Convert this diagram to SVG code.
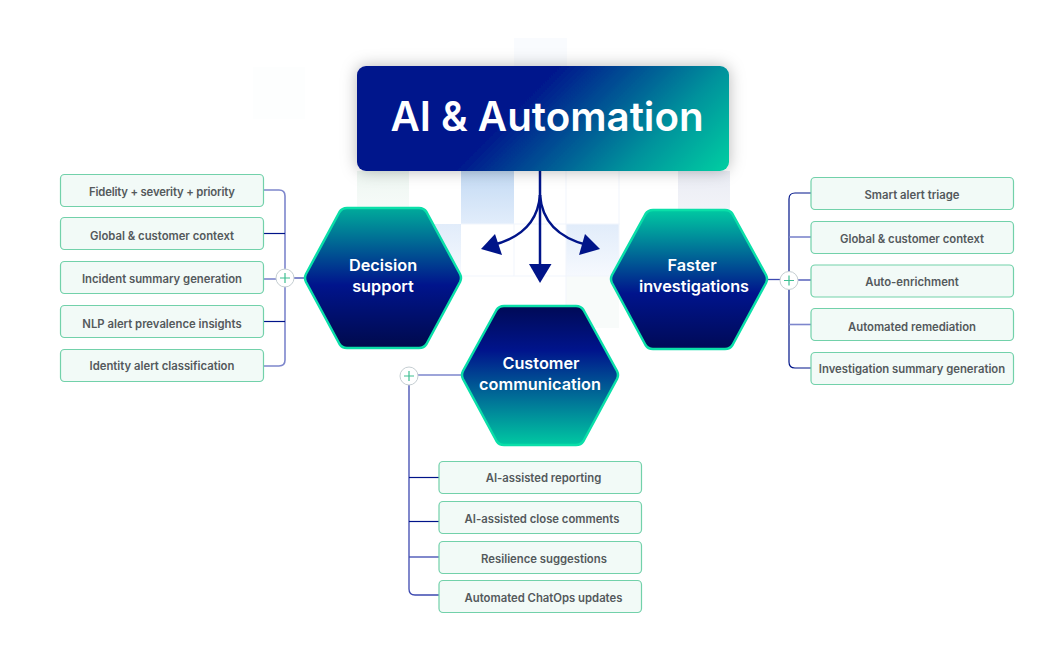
<svg xmlns="http://www.w3.org/2000/svg" width="1058" height="653" viewBox="0 0 1058 653">
<style>
text{font-family:"Inter","Liberation Sans",sans-serif;font-weight:600;text-anchor:middle;font-variant-ligatures:none}
.lab{font-size:11.3px;fill:#54595c}
.hx{font-size:16.300px;fill:#fff}
.box{fill:#f2faf7;stroke:#72d1aa;stroke-width:1.2}
.hex{stroke:#0adfa9;stroke-width:2.5;stroke-linejoin:round}
.d{fill:none;stroke:#001489;stroke-width:1.2}
.f{fill:none;stroke:#7d86cc;stroke-width:1.6}
.m{fill:none;stroke:#3d49b0;stroke-width:1.3}
.plus{fill:#fff;stroke:#c5ced2;stroke-width:1}
.pl{stroke:#3ebf92;stroke-width:1.2}
.arr{fill:none;stroke:#001489;stroke-width:2.5}
.head{fill:#001489}
.grid{stroke:#f1f5fc;stroke-width:1}
</style>
<defs>
<linearGradient id="gm" gradientUnits="userSpaceOnUse" x1="470" y1="150" x2="610" y2="290"><stop offset="0" stop-color="#00148c"/><stop offset=".62" stop-color="#00929c"/><stop offset="1" stop-color="#00cfa2"/></linearGradient>
<linearGradient id="gh" x1="0" y1="0" x2="0" y2="1"><stop offset="0" stop-color="#00ab9b"/><stop offset=".55" stop-color="#00148c"/><stop offset="1" stop-color="#000a4c"/></linearGradient>
<linearGradient id="gr" x1="0" y1="0" x2="0" y2="1"><stop offset="0" stop-color="#00c9a2"/><stop offset=".6" stop-color="#00148c"/><stop offset="1" stop-color="#000a56"/></linearGradient>
<linearGradient id="gb" x1="0" y1="0" x2="0" y2="1"><stop offset="0" stop-color="#000a56"/><stop offset=".32" stop-color="#00148c"/><stop offset="1" stop-color="#00c9a2"/></linearGradient>
<linearGradient id="b1" x1="0" y1="0" x2="0" y2="1"><stop offset="0" stop-color="#c3daf4"/><stop offset="1" stop-color="#e2edfb"/></linearGradient>
<linearGradient id="b2" x1="0" y1="0" x2="0" y2="1"><stop offset="0" stop-color="#e1ecfa"/><stop offset="1" stop-color="#f6f9fe"/></linearGradient>
<linearGradient id="b3" x1="0" y1="0" x2="0" y2="1"><stop offset="0" stop-color="#edf6f1"/><stop offset="1" stop-color="#fbfdfc"/></linearGradient>
<linearGradient id="b4" x1="0" y1="0" x2="0" y2="1"><stop offset="0" stop-color="#eaecf4"/><stop offset="1" stop-color="#f5f6fa"/></linearGradient>
<filter id="sh" x="-10%" y="-25%" width="120%" height="150%"><feDropShadow dx="0" dy="0" stdDeviation="8" flood-color="#000" flood-opacity=".28"/></filter>
</defs>
<rect width="1058" height="653" fill="#fff"/>
<g id="background">
<rect x="253" y="67" width="52" height="52" fill="#fdfefe"/>
<rect x="514" y="38" width="53" height="28" fill="#f9fbfe"/>
<rect x="357" y="171" width="52" height="53" fill="url(#b3)"/>
<rect x="461" y="171" width="53" height="53" fill="url(#b1)"/>
<rect x="678" y="171" width="52" height="53" fill="url(#b4)"/>
<rect x="409" y="224" width="52" height="52" fill="url(#b2)"/>
<rect x="566" y="224" width="53" height="52" fill="url(#b2)"/>
<rect x="566" y="276" width="53" height="52" fill="#f8fbfa"/>
<path class="grid" d="M461 224H620M461 276H620M566 171V330M619 171V276M514 224V276"/>
</g>
<g id="connectors">
<path class="f" d="M264 190H279Q285 190 285 196V360Q285 366 279 366H264"/>
<path class="d" d="M264 233.500H285"/><path class="f" d="M264 279H276"/><path class="d" d="M264 321.500H285"/><path class="m" d="M294 278H304"/>
<path class="d" d="M811 193H795Q789 193 789 199V362Q789 368 795 368H811"/>
<path class="f" d="M789 237H811"/><path class="m" d="M798 280H811"/><path class="f" d="M789 324.500H811"/><path class="m" d="M768 279.500H780"/>
<path class="f" d="M418 375H461"/>
<path class="m" d="M409 385V589Q409 595 415 595H439"/>
<path class="d" d="M409 477.500H439"/><path class="d" d="M409 521.500H439"/><path class="m" d="M409 557H439"/>
<path class="arr" d="M540 171V266"/><path class="arr" d="M540 195C538 222 520 238 493 245"/><path class="arr" d="M540 195C542 222 560 238 587 245"/>
<path class="head" d="M529 264H551.500L540 283Z"/><path class="head" d="M481 249L495 234L502 255Z"/><path class="head" d="M600 249L585 234L579 255Z"/>
<circle class="plus" cx="285" cy="278" r="9"/><path class="pl" d="M280 278H290M285 273V283"/>
<circle class="plus" cx="789" cy="280.500" r="9"/><path class="pl" d="M784 280.500H794M789 275.500V285.500"/>
<circle class="plus" cx="409" cy="376" r="9"/><path class="pl" d="M404 376H414M409 371V381"/>
</g>
<g id="main"><rect x="357" y="66" width="372" height="105" rx="9" fill="url(#gm)" filter="url(#sh)"/><text x="547" y="131" style="font-size:40.300px;fill:#fff">AI &amp; Automation</text></g>
<g id="decision"><path class="hex" d="M347 208H419Q424 208 426.500 212L460 274Q462 278 460 282L426.500 344Q424 348 419 348H347Q342 348 339.500 344L306 282Q304 278 306 274L339.500 212Q342 208 347 208Z" fill="url(#gh)"/><text class="hx" x="383" y="271">Decision</text><text class="hx" x="383" y="292">support</text></g>
<g id="faster"><path class="hex" d="M653 210H725Q730 210 732.500 214L766 275Q768 279 766 283L732.500 345Q730 349 725 349H653Q648 349 645.500 345L612 283Q610 279 612 275L645.500 214Q648 210 653 210Z" fill="url(#gr)"/><text class="hx" x="692" y="271">Faster</text><text class="hx" x="694" y="292">investigations</text></g>
<g id="customer"><path class="hex" d="M504 306H576Q581 306 583.500 310L617 371Q619 375 617 379L583.500 441Q581 445 576 445H504Q499 445 496.500 441L463 379Q461 375 463 371L496.500 310Q499 306 504 306Z" fill="url(#gb)"/><text class="hx" x="541" y="369">Customer</text><text class="hx" x="540" y="390">communication</text></g>
<g id="l1"><rect class="box" x="60.500" y="174.500" width="203" height="32" rx="4"/><text class="lab" x="162" y="196" textLength="146" lengthAdjust="spacing">Fidelity + severity + priority</text></g>
<g id="l2"><rect class="box" x="60.500" y="217.500" width="203" height="32" rx="4"/><text class="lab" x="162" y="240">Global &amp; customer context</text></g>
<g id="l3"><rect class="box" x="60.500" y="261.500" width="203" height="32" rx="4"/><text class="lab" x="162" y="283">Incident summary generation</text></g>
<g id="l4"><rect class="box" x="60.500" y="305.500" width="203" height="32" rx="4"/><text class="lab" x="162" y="328">NLP alert prevalence insights</text></g>
<g id="l5"><rect class="box" x="60.500" y="349.500" width="203" height="32" rx="4"/><text class="lab" x="162" y="370">Identity alert classification</text></g>
<g id="r1"><rect class="box" x="811" y="177.500" width="202.500" height="32" rx="4"/><text class="lab" x="912" y="199">Smart alert triage</text></g>
<g id="r2"><rect class="box" x="811" y="221.500" width="202.500" height="32" rx="4"/><text class="lab" x="912" y="243">Global &amp; customer context</text></g>
<g id="r3"><rect class="box" x="811" y="265" width="202.500" height="32" rx="4"/><text class="lab" x="912" y="286">Auto-enrichment</text></g>
<g id="r4"><rect class="box" x="811" y="308.500" width="202.500" height="32" rx="4"/><text class="lab" x="912" y="331">Automated remediation</text></g>
<g id="r5"><rect class="box" x="811" y="352.500" width="202.500" height="32" rx="4"/><text class="lab" x="912" y="373">Investigation summary generation</text></g>
<g id="b1n"><rect class="box" x="439" y="461.500" width="202.500" height="32" rx="4"/><text class="lab" x="543.500" y="482">AI-assisted reporting</text></g>
<g id="b2n"><rect class="box" x="439" y="501.500" width="202.500" height="32" rx="4"/><text class="lab" x="542" y="523">AI-assisted close comments</text></g>
<g id="b3n"><rect class="box" x="439" y="541.500" width="202.500" height="32" rx="4"/><text class="lab" x="544" y="563">Resilience suggestions</text></g>
<g id="b4n"><rect class="box" x="439" y="580.500" width="202.500" height="32" rx="4"/><text class="lab" x="543.500" y="602">Automated ChatOps updates</text></g>
</svg>
